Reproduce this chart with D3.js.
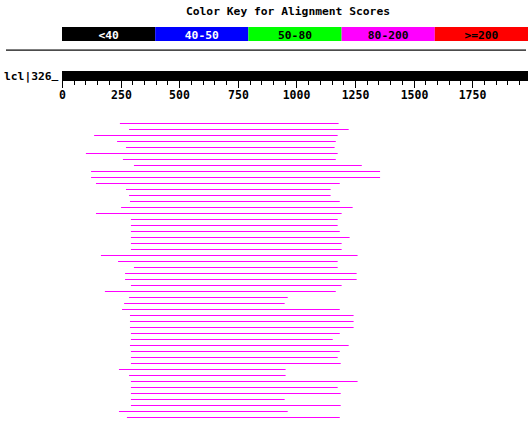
<!DOCTYPE html>
<html><head><meta charset="utf-8">
<script src="https://cdn.jsdelivr.net/npm/d3@7"></script>
<style>body{margin:0;background:#fff}svg{display:block}</style>
</head><body>
<script>
const keyLabels = ["<40","40-50","50-80","80-200",">=200"];
const keyColors = ["#000000","#0000ff","#00ff00","#ff00ff","#ff0000"];
const keyTextColors = ["#ffffff","#ffffff","#000000","#000000","#000000"];
const queryLength = 1988;
const queryName = "lcl|326";
const tickValues = [0,250,500,750,1000,1250,1500,1750];
const hitStarts = [247,286,137,235,273,102,260,307,124,124,145,273,286,290,252,145,294,294,294,294,294,294,166,239,307,269,269,294,183,286,265,256,290,290,290,294,294,290,294,294,294,243,286,294,294,294,294,294,243,277];
const hitEnds = [1180,1223,1176,1168,1163,1176,1168,1279,1357,1357,1185,1146,1146,1185,1240,1193,1176,1176,1185,1227,1193,1193,1261,1176,1176,1257,1257,1193,1168,963,950,1185,1244,1244,1244,1185,1155,1223,1185,1176,1189,954,954,1261,1176,1189,950,1189,963,1185];
const hitScoreClass = 3;

const W = 532, H = 421;
const svg = d3.select("body").append("svg").attr("width", W).attr("height", H);
const font = "'DejaVu Sans Mono','Liberation Mono',monospace";

svg.append("text").attr("x", 288).attr("y", 15).attr("text-anchor","middle")
  .attr("font-family", font).attr("font-weight","bold").attr("font-size", 11.3)
  .text("Color Key for Alignment Scores");

const keyX = d3.scaleBand().domain(keyLabels).range([62, 528]).padding(0);
const kg = svg.append("g");
kg.selectAll("rect").data(keyLabels).join("rect")
  .attr("x", d => keyX(d)).attr("y", 27).attr("width", keyX.bandwidth()).attr("height", 14)
  .attr("fill", (d,i) => keyColors[i]);
kg.selectAll("text").data(keyLabels).join("text")
  .attr("x", d => keyX(d) + keyX.bandwidth()/2).attr("y", 38.5).attr("text-anchor","middle")
  .attr("font-family", font).attr("font-weight","bold").attr("font-size", 11.3)
  .attr("fill", (d,i) => keyTextColors[i]).text(d => d);

svg.append("rect").attr("x", 6).attr("y", 49.5).attr("width", 520).attr("height", 1.2).attr("fill","#000");

const x = d3.scaleLinear().domain([0, queryLength]).range([62, 528]);

svg.append("rect").attr("x", x(0)).attr("y", 71).attr("width", x(queryLength) - x(0)).attr("height", 10).attr("fill","#000");
const lbl = svg.append("text").attr("x", 4).attr("y", 80)
  .attr("font-family", font).attr("font-weight","bold").attr("font-size", 11.3);
lbl.append("tspan").text(queryName);
lbl.append("tspan").attr("dy", -2).text("_");

const axis = d3.axisBottom(x).tickValues(tickValues).tickSize(7).tickSizeOuter(0).tickFormat(d3.format("d"));
const ag = svg.append("g").attr("transform", "translate(0,81)").call(axis);
ag.select(".domain").remove();
ag.selectAll(".tick line").attr("stroke","#000").attr("stroke-width",1);
ag.selectAll(".tick text").attr("y", 10).attr("dy","0.71em")
  .attr("font-family", font).attr("font-weight","bold").attr("font-size", 11.5).attr("fill","#000");
const minor = d3.range(0, queryLength, 50).filter(v => v % 250 !== 0);
ag.selectAll("line.minor").data(minor).join("line").attr("class","minor")
  .attr("x1", d => Math.round(x(d)) + 0.5).attr("x2", d => Math.round(x(d)) + 0.5)
  .attr("y1", 0).attr("y2", 4).attr("stroke","#000");
ag.selectAll(".tick").attr("transform", d => `translate(${Math.round(x(d)) + 0.5},0)`);

const rows = hitStarts.map((s, i) => ({s, e: hitEnds[i], i}));
svg.append("g").selectAll("line").data(rows).join("line")
  .attr("x1", d => x(d.s)).attr("x2", d => x(d.e))
  .attr("y1", d => 123.5 + 6 * d.i).attr("y2", d => 123.5 + 6 * d.i)
  .attr("stroke", keyColors[hitScoreClass]).attr("stroke-width", 1);
</script>
</body></html>
